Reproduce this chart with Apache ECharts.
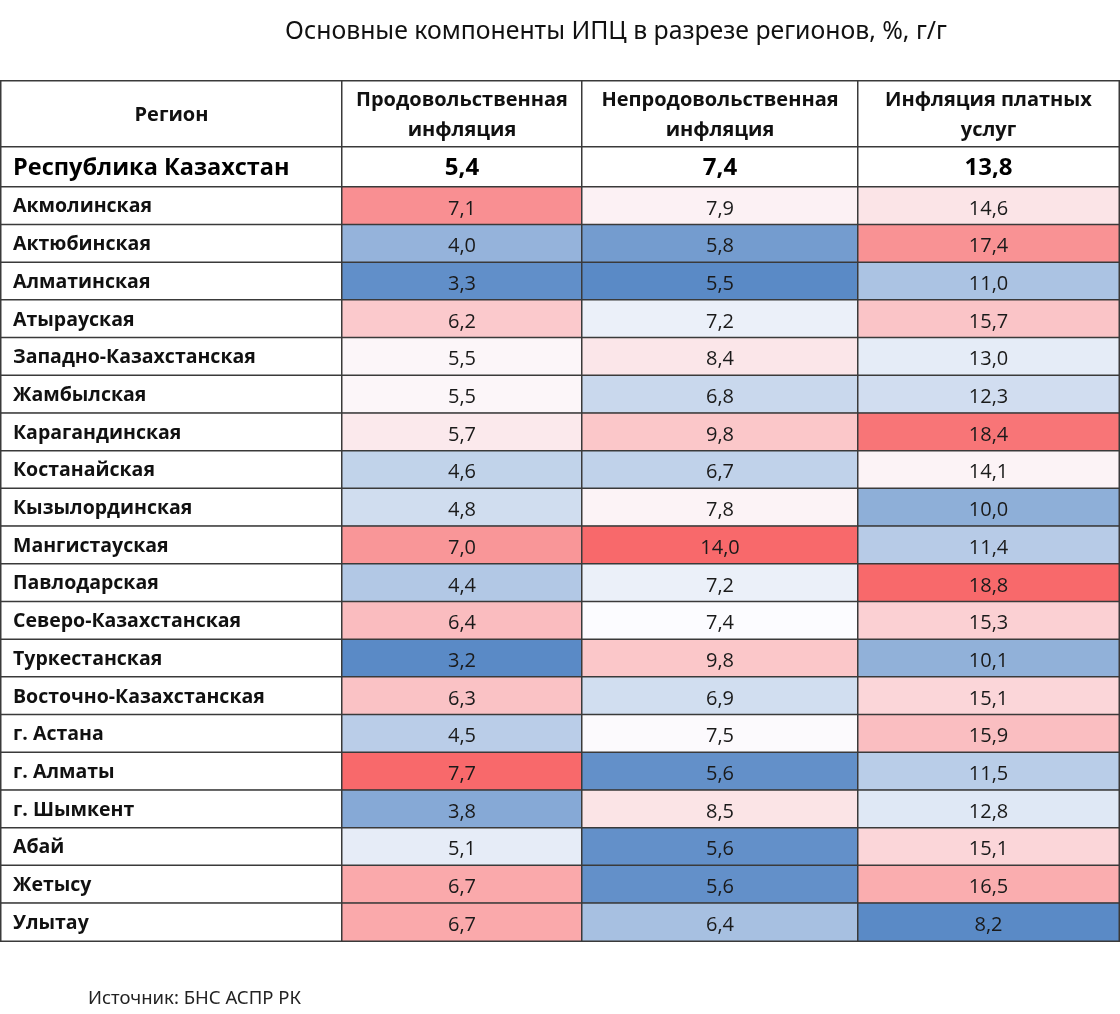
<!DOCTYPE html>
<html><head><meta charset="utf-8">
<script src="https://cdn.jsdelivr.net/npm/echarts@6/dist/echarts.min.js"></script>
<style>html,body{margin:0;padding:0;background:#fff}#c{width:1120px;height:1014px}</style>
</head><body><div id="c"></div>
<script>
const chartTitle = 'Основные компоненты ИПЦ в разрезе регионов, %, г/г';
const sourceText = 'Источник: БНС АСПР РК';
const columnHeaders = ['Регион', 'Продовольственная\nинфляция', 'Непродовольственная\nинфляция', 'Инфляция платных\nуслуг'];
const totalLabel = 'Республика Казахстан';
const totals = [5.4, 7.4, 13.8];
const regions = ['Акмолинская','Актюбинская','Алматинская','Атырауская','Западно-Казахстанская','Жамбылская','Карагандинская','Костанайская','Кызылординская','Мангистауская','Павлодарская','Северо-Казахстанская','Туркестанская','Восточно-Казахстанская','г. Астана','г. Алматы','г. Шымкент','Абай','Жетысу','Улытау'];
const foodInflation    = [7.1,4.0,3.3,6.2,5.5,5.5,5.7,4.6,4.8,7.0,4.4,6.4,3.2,6.3,4.5,7.7,3.8,5.1,6.7,6.7];
const nonFoodInflation = [7.9,5.8,5.5,7.2,8.4,6.8,9.8,6.7,7.8,14.0,7.2,7.4,9.8,6.9,7.5,5.6,8.5,5.6,5.6,6.4];
const servicesInflation= [14.6,17.4,11.0,15.7,13.0,12.3,18.4,14.1,10.0,11.4,18.8,15.3,10.1,15.1,15.9,11.5,12.8,15.1,16.5,8.2];

const valueCols = [foodInflation, nonFoodInflation, servicesInflation];
const colEdges = [1, 342, 582, 858, 1119];
const bandEdges = [81, 147, 187, 941];
const fmt = v => v.toFixed(1).replace('.', ',');
const FONT = "'Open Sans', 'Noto Sans', sans-serif";
const BORDER = { borderColor: '#3a3a3a', borderWidth: 1.5 };

const grid = [], xAxis = [], yAxis = [], series = [], visualMap = [];
let gi = 0;
for (let c = 0; c < 4; c++) {
  for (let b = 0; b < 3; b++) {
    grid.push({ left: colEdges[c], top: bandEdges[b], width: colEdges[c+1]-colEdges[c], height: bandEdges[b+1]-bandEdges[b] });
    xAxis.push({ type: 'category', gridIndex: gi, data: ['c'], show: false });
    const ycats = b === 2 ? regions : [b === 0 ? 'h' : 't'];
    yAxis.push({ type: 'category', gridIndex: gi, data: ycats, inverse: true, show: false });
    const s = { type: 'heatmap', xAxisIndex: gi, yAxisIndex: gi, itemStyle: Object.assign({ color: '#ffffff' }, BORDER), emphasis: { disabled: true } };
    if (b === 0) {
      s.data = [[0, 0, 0]];
      s.label = { show: true, formatter: () => columnHeaders[c], fontFamily: FONT, fontWeight: 'bold', fontSize: 20, lineHeight: 30, color: '#111', align: 'center', offset: [0, 1] };
    } else if (b === 1) {
      s.data = [[0, 0, c === 0 ? 0 : totals[c-1]]];
      s.label = { show: true, formatter: c === 0 ? (() => totalLabel) : (p => fmt(p.data[2])), fontFamily: FONT, fontWeight: 'bold',
        fontSize: c === 0 ? 23.5 : 24, color: '#000', position: c === 0 ? 'insideLeft' : 'inside', distance: 13, offset: [0, 1] };
    } else if (c === 0) {
      s.data = regions.map((r, i) => [0, i, 0]);
      s.label = { show: true, formatter: p => regions[p.data[1]], fontFamily: FONT, fontWeight: 'bold', fontSize: 19.5, color: '#111', position: 'insideLeft', distance: 13, offset: [0, 1] };
    } else {
      const vals = valueCols[c-1];
      const mid = totals[c-1], mn = Math.min(...vals), mx = Math.max(...vals);
      s.data = vals.map((v, i) => [0, i, v < mid ? (v - mid) / (mid - mn) : (v - mid) / (mx - mid), v]);
      s.label = { show: true, formatter: p => fmt(p.data[3]), fontFamily: FONT, fontSize: 20, color: '#1a1a1a', offset: [0, 3] };
      visualMap.push({ type: 'continuous', show: false, seriesIndex: series.length, dimension: 2, min: -1, max: 1,
        inRange: { color: ['#5A8AC6', '#FCFCFF', '#F8696B'] } });
    }
    series.push(s);
    gi++;
  }
}

const chart = echarts.init(document.getElementById('c'), null, { renderer: 'canvas' });
chart.setOption({
  backgroundColor: '#ffffff',
  animation: false,
  title: [
    { text: chartTitle, left: 611, top: 14, textAlign: 'center', textStyle: { fontFamily: "'Noto Sans', sans-serif", fontWeight: 'normal', fontSize: 24.8, color: '#111' } },
    { text: sourceText, left: 83, top: 984, textStyle: { fontFamily: "'Noto Sans', sans-serif", fontWeight: 'normal', fontSize: 18.5, color: '#222' } }
  ],
  grid, xAxis, yAxis, visualMap, series
});
</script></body></html>
